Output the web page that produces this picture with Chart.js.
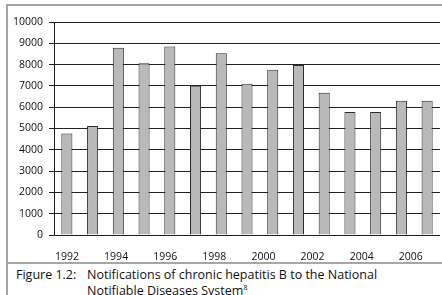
<!DOCTYPE html>
<html>
<head>
<meta charset="utf-8">
<script src="https://cdn.jsdelivr.net/npm/chart.js@4.4.0/dist/chart.umd.min.js"></script>
<style>
  html, body { margin: 0; padding: 0; background: #fff; }
  #wrap { position: relative; width: 442px; height: 295px; overflow: hidden; font-family: 'Open Sans', sans-serif; }
  #chartBox { position: absolute; left: 8px; top: 6px; width: 434px; height: 256px; }
  .rule { position: absolute; background: #a6a6a6; }
  #caption { position: absolute; left: 16px; top: 267px; font-size: 12.5px; line-height: 15.5px; color: #111; }
  #caption .lbl { display: inline-block; width: 71px; }
  #caption .ind { padding-left: 71px; }
  #caption sup { font-size: 7px; vertical-align: 5px; line-height: 0; }
</style>
</head>
<body>
<div id="wrap">
  <div class="rule" style="left:6px; top:4px; width:436px; height:2px;"></div>
  <div class="rule" style="left:6px; top:4px; width:2px; height:291px;"></div>
  <div class="rule" style="left:6px; top:262px; width:436px; height:2px;"></div>
  <div id="chartBox"><canvas id="c"></canvas></div>
  <div id="caption">
    <div><span class="lbl">Figure 1.2:</span>Notifications of chronic hepatitis B to the National</div>
    <div class="ind">Notifiable Diseases System<sup>8</sup></div>
  </div>
</div>
<script>
// Notifications per year
const years = ['1992','1993','1994','1995','1996','1997','1998','1999',
               '2000','2001','2002','2003','2004','2005','2006'];
const notifications = [4760, 5120, 8790, 8060, 8850, 7010, 8530, 7100,
                       7760, 7980, 6680, 5770, 5770, 6300, 6300];
const yTicks = [0, 1000, 2000, 3000, 4000, 5000, 6000, 7000, 8000, 9000, 10000];
// year labels under the axis (in the original they drift slightly left of the bars)
const yearTicks = [1992, 1994, 1996, 1998, 2000, 2002, 2004, 2006];
const yearMin = 1991.47, yearMax = 2007.19;

const tickFont = { family: "'Open Sans', sans-serif", size: 10.5 };

new Chart(document.getElementById('c'), {
  type: 'bar',
  data: {
    labels: years,
    datasets: [{
      data: notifications,
      backgroundColor: '#b9b9b9',
      borderColor: '#2b2b2b',
      borderWidth: 1,
      categoryPercentage: 1,
      barPercentage: 0.43
    }]
  },
  options: {
    responsive: true,
    maintainAspectRatio: false,
    animation: false,
    layout: { padding: { top: 16, right: 2, bottom: 0, left: 0 } },
    plugins: { legend: { display: false }, tooltip: { enabled: false } },
    scales: {
      x: { display: false },
      yearAxis: {
        type: 'linear',
        position: 'bottom',
        offset: false,
        bounds: 'data',
        min: yearMin,
        max: yearMax,
        grid: { display: false, drawTicks: false, offset: false },
        border: { display: false },
        afterBuildTicks: s => {
          s.ticks = yearTicks.map(v => ({ value: v }));
          s.min = yearMin;
          s.max = yearMax;
        },
        ticks: {
          color: '#111', font: tickFont, padding: 16, maxRotation: 0, autoSkip: false,
          callback: v => String(v)
        },
        afterFit: s => { s.height = 27; }
      },
      y: {
        min: yTicks[0],
        max: yTicks[yTicks.length - 1],
        afterBuildTicks: s => { s.ticks = yTicks.map(v => ({ value: v })); },
        grid: { color: '#222', lineWidth: 1, tickLength: 5 },
        border: { display: true, color: '#222', width: 1 },
        ticks: { color: '#111', font: tickFont, padding: 6, callback: v => String(v) },
        afterFit: s => { s.width = 46; }
      }
    }
  }
});
</script>
</body>
</html>
